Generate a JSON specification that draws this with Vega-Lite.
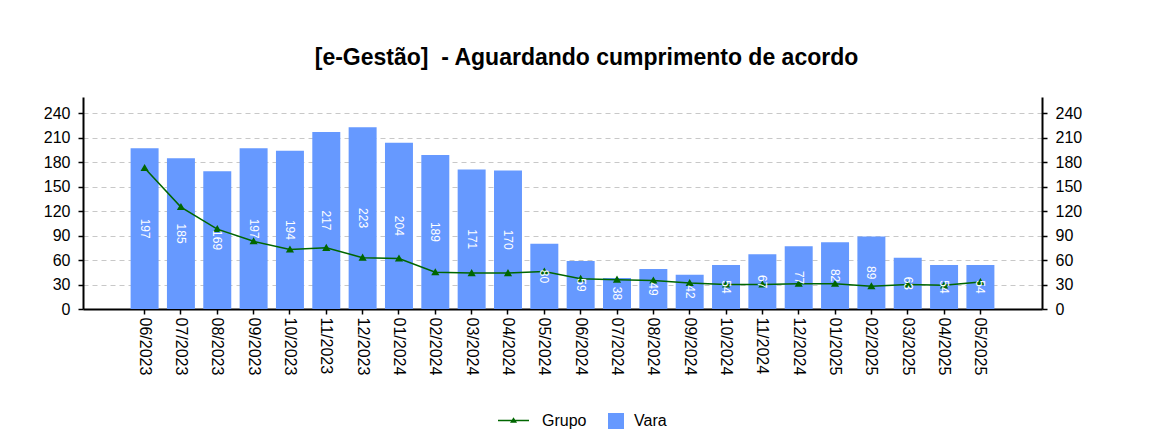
{
  "$schema": "https://vega.github.io/schema/vega-lite/v6.json",
  "width": 959,
  "height": 212,
  "autosize": {"type": "none"},
  "padding": {"left": 83, "top": 97, "right": 117, "bottom": 136},
  "background": "white",
  "title": {
    "text": "[e-Gestão]\u00a0\u00a0- Aguardando cumprimento de acordo",
    "font": "Liberation Sans",
    "fontSize": 23,
    "fontWeight": "bold",
    "color": "black",
    "anchor": "middle",
    "frame": "group",
    "dx": 24,
    "offset": 27
  },
  "data": {
    "values": [
      {"mes": "06/2023", "Vara": 197, "Grupo": 173},
      {"mes": "07/2023", "Vara": 185, "Grupo": 125},
      {"mes": "08/2023", "Vara": 169, "Grupo": 98},
      {"mes": "09/2023", "Vara": 197, "Grupo": 83},
      {"mes": "10/2023", "Vara": 194, "Grupo": 73},
      {"mes": "11/2023", "Vara": 217, "Grupo": 75},
      {"mes": "12/2023", "Vara": 223, "Grupo": 63},
      {"mes": "01/2024", "Vara": 204, "Grupo": 62},
      {"mes": "02/2024", "Vara": 189, "Grupo": 45},
      {"mes": "03/2024", "Vara": 171, "Grupo": 44},
      {"mes": "04/2024", "Vara": 170, "Grupo": 44},
      {"mes": "05/2024", "Vara": 80, "Grupo": 46},
      {"mes": "06/2024", "Vara": 59, "Grupo": 37},
      {"mes": "07/2024", "Vara": 38, "Grupo": 36},
      {"mes": "08/2024", "Vara": 49, "Grupo": 35},
      {"mes": "09/2024", "Vara": 42, "Grupo": 32},
      {"mes": "10/2024", "Vara": 54, "Grupo": 30},
      {"mes": "11/2024", "Vara": 67, "Grupo": 30},
      {"mes": "12/2024", "Vara": 77, "Grupo": 31},
      {"mes": "01/2025", "Vara": 82, "Grupo": 31},
      {"mes": "02/2025", "Vara": 89, "Grupo": 28},
      {"mes": "03/2025", "Vara": 63, "Grupo": 30},
      {"mes": "04/2025", "Vara": 54, "Grupo": 29},
      {"mes": "05/2025", "Vara": 54, "Grupo": 33}
    ]
  },
  "config": {
    "view": {"stroke": null},
    "font": "Liberation Sans",
    "axis": {
      "labelFont": "Liberation Sans",
      "labelFontSize": 16,
      "labelColor": "black",
      "domainColor": "black",
      "domainWidth": 2,
      "tickColor": "black",
      "tickWidth": 1.5,
      "tickSize": 5,
      "gridColor": "#c8c8c8",
      "gridDash": [5, 4],
      "gridWidth": 1
    }
  },
  "layer": [
    {
      "mark": {"type": "bar"},
      "encoding": {
        "x": {
          "field": "mes",
          "type": "ordinal",
          "sort": null,
          "scale": {
            "domain": [" ", "06/2023", "07/2023", "08/2023", "09/2023", "10/2023", "11/2023", "12/2023", "01/2024", "02/2024", "03/2024", "04/2024", "05/2024", "06/2024", "07/2024", "08/2024", "09/2024", "10/2024", "11/2024", "12/2024", "01/2025", "02/2025", "03/2025", "04/2025", "05/2025", "  "],
            "paddingInner": 0.23,
            "paddingOuter": 0.31
          },
          "axis": {
            "title": null,
            "labelAngle": 90,
            "labelPadding": 3,
            "grid": false,
            "values": ["06/2023", "07/2023", "08/2023", "09/2023", "10/2023", "11/2023", "12/2023", "01/2024", "02/2024", "03/2024", "04/2024", "05/2024", "06/2024", "07/2024", "08/2024", "09/2024", "10/2024", "11/2024", "12/2024", "01/2025", "02/2025", "03/2025", "04/2025", "05/2025"]
          }
        },
        "y": {
          "field": "Vara",
          "type": "quantitative",
          "scale": {"domain": [0, 260], "nice": false},
          "axis": {
            "orient": "left",
            "title": null,
            "values": [0, 30, 60, 90, 120, 150, 180, 210, 240],
            "grid": true,
            "labelPadding": 8
          }
        },
        "fill": {
          "datum": "Vara",
          "type": "nominal",
          "scale": {"domain": ["Vara"], "range": ["#6699ff"]},
          "legend": {
            "orient": "none",
            "legendX": 524,
            "legendY": 315,
            "direction": "horizontal",
            "title": null,
            "labelFont": "Liberation Sans",
            "labelFontSize": 16,
            "labelColor": "black",
            "symbolType": "square",
            "symbolSize": 256,
            "labelOffset": 9,
            "padding": 0,
            "encode": {
              "symbols": {
                "update": {
                  "fill": {"signal": "{gradient: 'linear', stops: [{offset: 0, color: '#6699ff'}, {offset: 1, color: '#66cc99'}]}"},
                  "stroke": {"value": "transparent"},
                  "opacity": {"value": 1},
                  "fillOpacity": {"value": 1}
                }
              }
            }
          }
        }
      }
    },
    {
      "mark": {
        "type": "line",
        "strokeWidth": 1.5,
        "point": {"shape": "triangle-up", "size": 22, "filled": true, "fill": "#006600", "stroke": null}
      },
      "encoding": {
        "x": {"field": "mes", "type": "ordinal", "sort": null},
        "y": {
          "field": "Grupo",
          "type": "quantitative",
          "scale": {"domain": [0, 260], "nice": false},
          "axis": {
            "orient": "right",
            "title": null,
            "values": [0, 30, 60, 90, 120, 150, 180, 210, 240],
            "grid": false,
            "labelPadding": 8
          }
        },
        "stroke": {
          "datum": "Grupo",
          "type": "nominal",
          "scale": {"domain": ["Grupo"], "range": ["#006600"]},
          "legend": {
            "orient": "none",
            "legendX": 414,
            "legendY": 307,
            "direction": "horizontal",
            "title": null,
            "labelFont": "Liberation Sans",
            "labelFontSize": 16,
            "labelColor": "black",
            "symbolType": "M-1,0L1,0M-0.14,0.1L0,-0.12L0.14,0.1Z",
            "symbolSize": 961,
            "symbolStrokeWidth": 1.5,
            "labelOffset": 12,
            "padding": 0,
            "encode": {
              "symbols": {
                "update": {
                  "fill": {"value": "#006600"},
                  "stroke": {"value": "#006600"},
                  "strokeWidth": {"value": 1.5},
                  "opacity": {"value": 1},
                  "fillOpacity": {"value": 1}
                }
              }
            }
          }
        }
      }
    },
    {
      "mark": {
        "type": "text",
        "angle": 90,
        "color": "white",
        "font": "Liberation Sans",
        "fontSize": 12,
        "align": "center",
        "baseline": "middle"
      },
      "encoding": {
        "x": {"field": "mes", "type": "ordinal", "sort": null},
        "y": {
          "field": "Vara",
          "type": "quantitative",
          "scale": {"domain": [0, 520], "nice": false},
          "axis": null
        },
        "text": {"field": "Vara", "type": "quantitative"}
      }
    }
  ],
  "resolve": {"scale": {"y": "independent"}}
}
